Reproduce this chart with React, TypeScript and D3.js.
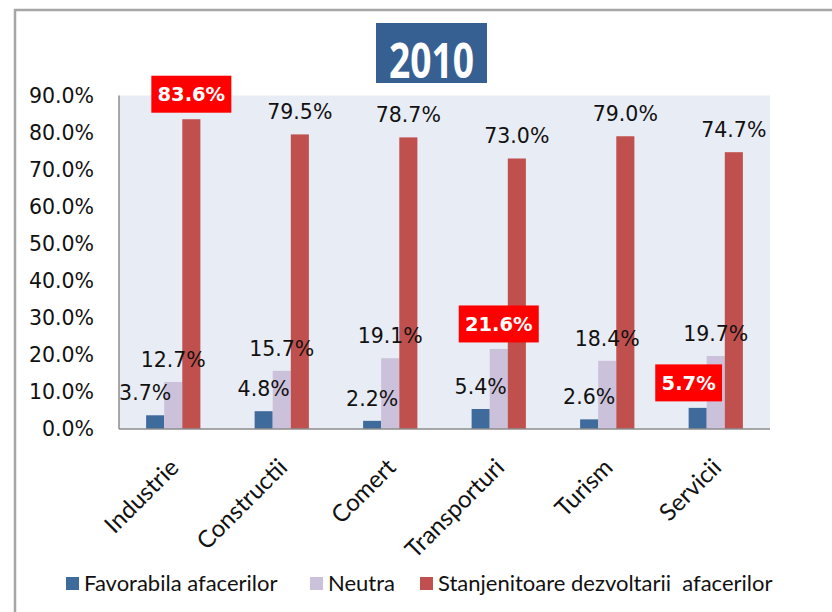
import React from "react";
import * as d3 from "d3";

const categories = ["Industrie", "Constructii", "Comert", "Transporturi", "Turism", "Servicii"];
const seriesNames = ["Favorabila afacerilor", "Neutra", "Stanjenitoare dezvoltarii  afacerilor"];
const favorabila = [3.7, 4.8, 2.2, 5.4, 2.6, 5.7];
const neutra = [12.7, 15.7, 19.1, 21.6, 18.4, 19.7];
const stanjenitoare = [83.6, 79.5, 78.7, 73.0, 79.0, 74.7];
const yTicks = [0, 10, 20, 30, 40, 50, 60, 70, 80, 90];
const title = "2010";
// highlighted labels: [seriesIndex, categoryIndex]
const highlighted = [[2, 0], [1, 3], [0, 5]];

const seriesValues = [favorabila, neutra, stanjenitoare];
const colors = ["#3E6A9C", "#CCC1DA", "#C0504D"];

const W = 832, H = 612;
const plot = { left: 119, right: 770, top: 95.5, bottom: 429 };

export default function App() {
  const x0 = d3.scaleBand<string>().domain(categories).range([plot.left, plot.right]).padding(0);
  const bw = x0.bandwidth();
  const x1 = d3.scaleBand<number>().domain([0, 1, 2]).range([bw / 4, (3 * bw) / 4]).padding(0);
  const y = d3.scaleLinear().domain([0, 90]).range([plot.bottom, plot.top]);
  const fmt = (v: number) => v.toFixed(1) + "%";
  const isHi = (s: number, c: number) => highlighted.some(([a, b]) => a === s && b === c);
  const labelDx: Record<string, number> = { "0-0": -10, "0-5": -9 };

  const legendX = [66, 310, 420];

  return (
    <svg width={W} height={H} style={{ position: "absolute", left: 0, top: 0, background: "#fff" }}>
      <rect x={0} y={0} width={W} height={H} fill="#fff" />
      <path d={`M15,${H} V10 H${W}`} fill="none" stroke="#A6A6A6" strokeWidth={2.5} />
      {/* title */}
      <rect x={376} y={23} width={111} height={60} fill="#376092" />
      <text x={431.5} y={78} textAnchor="middle" fill="#fff" fontFamily="Open Sans" fontWeight="bold" fontSize={49} textLength={85} lengthAdjust="spacingAndGlyphs">{title}</text>
      {/* plot background */}
      <rect x={plot.left} y={plot.top} width={plot.right - plot.left} height={plot.bottom - plot.top} fill="#E8ECF4" />
      {/* y tick labels */}
      {yTicks.map((t) => (
        <text key={t} x={94} y={y(t)} dy="0.36em" textAnchor="end" fontFamily="DejaVu Sans" fontSize={20.5} fill="#111">{fmt(t)}</text>
      ))}
      {/* bars */}
      {seriesValues.map((vals, s) =>
        vals.map((v, c) => (
          <rect key={`${s}-${c}`} x={(x0(categories[c]) as number) + (x1(s) as number)} y={y(v)} width={x1.bandwidth()} height={plot.bottom - y(v)} fill={colors[s]} />
        ))
      )}
      {/* axes */}
      <line x1={plot.left} x2={plot.left} y1={plot.top} y2={plot.bottom} stroke="#8C8C8C" strokeWidth={1.5} />
      <line x1={plot.left} x2={plot.right} y1={plot.bottom} y2={plot.bottom} stroke="#8C8C8C" strokeWidth={1.5} />
      {/* value labels */}
      {seriesValues.map((vals, s) =>
        vals.map((v, c) => {
          const cx = (x0(categories[c]) as number) + (x1(s) as number) + x1.bandwidth() / 2;
          const top = y(v);
          const label = fmt(v);
          const dx = labelDx[`${s}-${c}`] || 0;
          if (isHi(s, c)) {
            const bwid = label.length * 13.2 + 14;
            return (
              <g key={`l${s}-${c}`}>
                <rect x={cx + dx - bwid / 2} y={top - 6.5 - 37} width={bwid} height={37} fill="#FF0000" />
                <text x={cx + dx} y={top - 6.5 - 18.5} dy="0.36em" textAnchor="middle" fill="#fff" fontFamily="DejaVu Sans" fontWeight="bold" fontSize={19.5}>{label}</text>
              </g>
            );
          }
          return (
            <text key={`l${s}-${c}`} x={cx + dx} y={top - 15} textAnchor="middle" fontFamily="DejaVu Sans" fontSize={20.5} fill="#111">{label}</text>
          );
        })
      )}
      {/* category labels */}
      {categories.map((cat) => {
        const cx = (x0(cat) as number) + bw / 2;
        return (
          <text key={cat} transform={`translate(${cx + 7},${469}) rotate(-45)`} textAnchor="end" fontFamily="Lato" fontSize={24} fill="#111">{cat}</text>
        );
      })}
      {/* legend */}
      {seriesNames.map((n, i) => (
        <g key={n} transform={`translate(${legendX[i]},0)`}>
          <rect x={0} y={577} width={13} height={13} fill={colors[i]} />
          <text x={18} y={591} fontFamily="Lato" fontSize={22} fill="#111" style={{ whiteSpace: "pre" }}>{n}</text>
        </g>
      ))}
    </svg>
  );
}
